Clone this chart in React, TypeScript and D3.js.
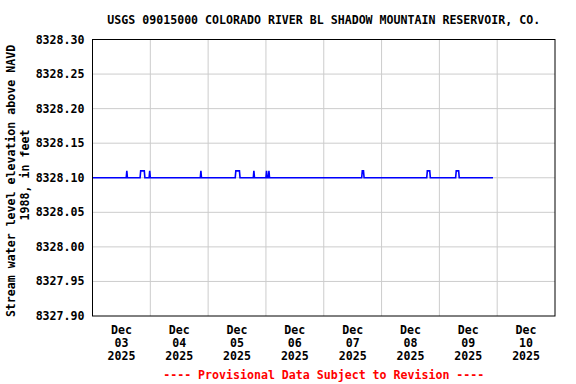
import React from "react";
import * as d3 from "d3";

const TITLE = "USGS 09015000 COLORADO RIVER BL SHADOW MOUNTAIN RESERVOIR, CO.";
const Y_LABEL_1 = "Stream water level elevation above NAVD";
const Y_LABEL_2 = "1988, in feet";
const FOOTER = "---- Provisional Data Subject to Revision ----";

const yTicks = [8327.9, 8327.95, 8328.0, 8328.05, 8328.1, 8328.15, 8328.2, 8328.25, 8328.3];
const dayLabels = ["03", "04", "05", "06", "07", "08", "09", "10"];

// hours since 2025-12-03 00:00 and gage height value
const hours = [
  0, 14.0, 14.25, 14.5,
  19.75, 20.0, 21.5, 21.75,
  23.5, 23.75, 24.0,
  44.75, 45.0, 45.25,
  59.25, 59.5, 61.0, 61.25,
  66.75, 67.0, 67.25,
  72.0, 72.25, 72.5, 73.0, 73.25, 73.5,
  111.75, 112.0, 112.5, 112.75,
  138.75, 139.0, 140.0, 140.25,
  150.75, 151.0, 152.0, 152.25,
  166.25,
];
const values = [
  8328.10, 8328.10, 8328.11, 8328.10,
  8328.10, 8328.11, 8328.11, 8328.10,
  8328.10, 8328.11, 8328.10,
  8328.10, 8328.11, 8328.10,
  8328.10, 8328.11, 8328.11, 8328.10,
  8328.10, 8328.11, 8328.10,
  8328.10, 8328.11, 8328.10, 8328.10, 8328.11, 8328.10,
  8328.10, 8328.11, 8328.11, 8328.10,
  8328.10, 8328.11, 8328.11, 8328.10,
  8328.10, 8328.11, 8328.11, 8328.10,
  8328.10,
];

const W = 576, H = 384;
const L = 92.5, R = 555, T = 39.5, B = 316;
const FONT = "'DejaVu Sans Mono', monospace";

export default function App() {
  const start = new Date(2025, 11, 3, 0, 0);
  const end = new Date(2025, 11, 11, 0, 0);
  const x = d3.scaleTime().domain([start, end]).range([L, R]);
  const y = d3.scaleLinear().domain([8327.9, 8328.3]).range([B, T]);
  const days = d3.timeDay.range(start, end);
  const data = hours.map((h, i) => ({ t: d3.timeMinute.offset(start, h * 60), v: values[i] }));
  const line = d3.line<{ t: Date; v: number }>().x(d => x(d.t)).y(d => y(d.v));

  return (
    <svg width={W} height={H} style={{ position: "absolute", left: 0, top: 0 }} fontFamily={FONT} fontWeight="bold" fontSize={11.6}>
      <rect x={0} y={0} width={W} height={H} fill="#fff" />
      {yTicks.slice(1, -1).map(t => (
        <line key={t} x1={L} x2={R} y1={y(t)} y2={y(t)} stroke="#cccccc" strokeWidth={1} />
      ))}
      {days.slice(1).map(d => (
        <line key={+d} x1={x(d)} x2={x(d)} y1={T} y2={B} stroke="#cccccc" strokeWidth={1} />
      ))}
      <path d={line(data) || ""} fill="none" stroke="#0000ff" strokeWidth={1.6} />
      <rect x={L} y={T} width={R - L} height={B - T} fill="none" stroke="#000" strokeWidth={1} />
      {yTicks.map(t => (
        <text key={t} x={L - 8} y={y(t)} dy="0.35em" textAnchor="end">{t.toFixed(2)}</text>
      ))}
      {days.map((d, i) => {
        const cx = x(d3.timeHour.offset(d, 12));
        return (
          <text key={+d} x={cx} textAnchor="middle">
            <tspan x={cx} y={334}>Dec</tspan>
            <tspan x={cx} y={347}>{dayLabels[i]}</tspan>
            <tspan x={cx} y={360}>2025</tspan>
          </text>
        );
      })}
      <text x={(L + R) / 2} y={24} textAnchor="middle">{TITLE}</text>
      <text transform={`translate(15,181) rotate(-90)`} textAnchor="middle">{Y_LABEL_1}</text>
      <text transform={`translate(28.5,175) rotate(-90)`} textAnchor="middle">{Y_LABEL_2}</text>
      <text x={(L + R) / 2} y={379} textAnchor="middle" fill="#ff0000">{FOOTER}</text>
    </svg>
  );
}
